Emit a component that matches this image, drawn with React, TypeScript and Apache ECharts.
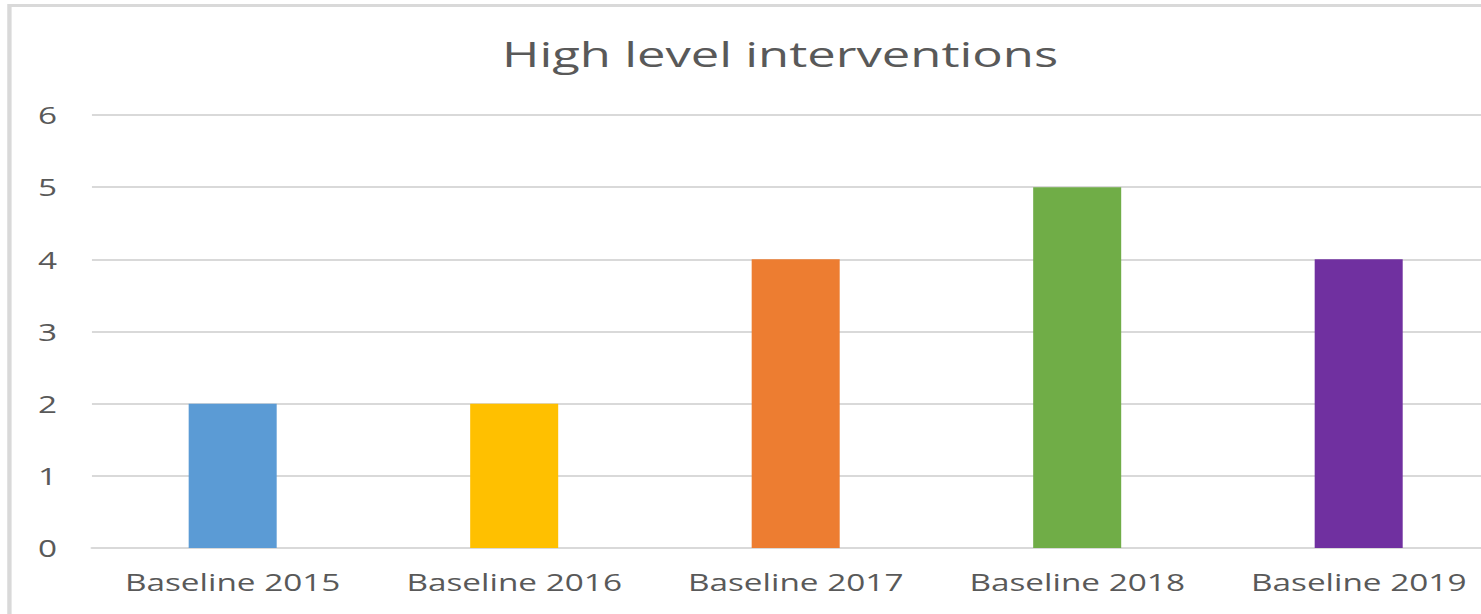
import React, { useEffect, useRef } from "react";
import * as echarts from "echarts";

const categories = ["Baseline 2015", "Baseline 2016", "Baseline 2017", "Baseline 2018", "Baseline 2019"];
const values = [2, 2, 4, 5, 4];
const barColors = ["#5B9BD5", "#FFC000", "#ED7D31", "#70AD47", "#7030A0"];
const titleText = "High level interventions";

// The reference is a horizontally stretched picture; render narrower and stretch.
const STRETCH = 1.45;
const INNER_W = 1035;
const INNER_H = 614;

export default function App() {
  const ref = useRef<HTMLDivElement>(null);
  useEffect(() => {
    if (!ref.current) return;
    const chart = echarts.init(ref.current, null, { renderer: "svg" });
    chart.setOption({
      animation: false,
      backgroundColor: "#ffffff",
      title: {
        text: titleText,
        left: 533,
        textAlign: "center",
        top: 31,
        textStyle: { fontFamily: "Open Sans", fontWeight: "normal", fontSize: 35, color: "#595959" },
      },
      graphic: [
        {
          type: "rect",
          shape: { x: 6.5, y: 5.5, width: 1100, height: 700 },
          style: { fill: "none", stroke: "#d9d9d9", lineWidth: 3 },
          silent: true,
        },
      ],
      grid: { left: 63.4, width: 970.7, top: 115, bottom: 66, containLabel: false },
      xAxis: {
        type: "category",
        data: categories,
        axisTick: { show: false },
        axisLine: { lineStyle: { color: "#d9d9d9", width: 2 } },
        axisLabel: { color: "#595959", fontFamily: "Open Sans", fontSize: 23, margin: 22 },
      },
      yAxis: {
        type: "value",
        min: 0,
        max: 6,
        interval: 1,
        axisLine: { show: false },
        axisTick: { show: false },
        splitLine: { lineStyle: { color: "#d9d9d9", width: 2 } },
        axisLabel: { color: "#595959", fontFamily: "Open Sans", fontSize: 23, margin: 24 },
      },
      series: [
        {
          type: "bar",
          data: values.map((v, i) => ({ value: v, itemStyle: { color: barColors[i] } })),
          barWidth: 60.7,
        },
      ],
    });
    return () => chart.dispose();
  }, []);
  return (
    <div
      ref={ref}
      style={{
        position: "fixed",
        left: 0,
        top: 0,
        width: INNER_W,
        height: INNER_H,
        transform: `scaleX(${STRETCH})`,
        transformOrigin: "0 0",
      }}
    />
  );
}
